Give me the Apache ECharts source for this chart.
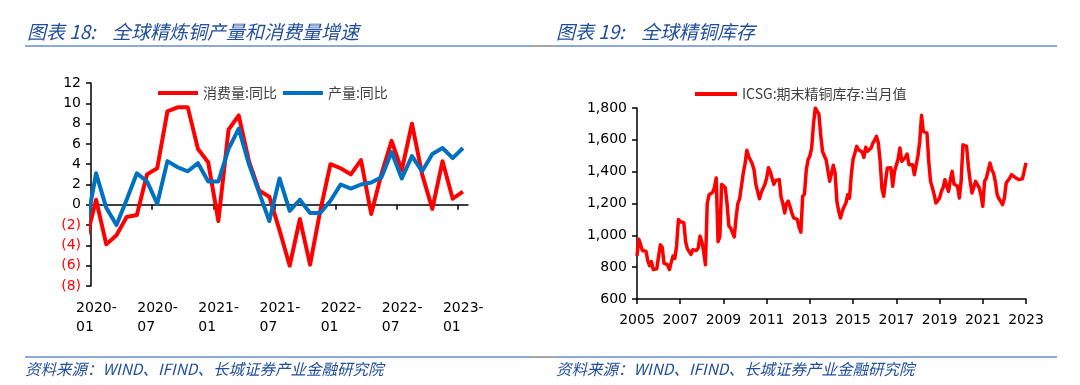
<!DOCTYPE html>
<html><head><meta charset="utf-8">
<script src="https://cdn.jsdelivr.net/npm/echarts@6/dist/echarts.min.js"></script>
<style>html,body{margin:0;padding:0;background:#fff}#c{width:1080px;height:385px}</style>
</head><body><div id="c"></div>
<script>
// ---------- Left chart: global refined copper production & consumption YoY (%) ----------
const leadMonth = '2019-12';   // partially visible segment entering the plot
const growthMonths = [
  '2020-01','2020-02','2020-03','2020-04','2020-05','2020-06','2020-07','2020-08','2020-09','2020-10','2020-11','2020-12',
  '2021-01','2021-02','2021-03','2021-04','2021-05','2021-06','2021-07','2021-08','2021-09','2021-10','2021-11','2021-12',
  '2022-01','2022-02','2022-03','2022-04','2022-05','2022-06','2022-07','2022-08','2022-09','2022-10','2022-11','2022-12',
  '2023-01'
];
// first value belongs to leadMonth
const consumptionYoY = [
  -3.5,
  0.5, -3.9, -3.0, -1.2, -1.0, 3.0, 3.6, 9.2, 9.6, 9.6, 5.5, 4.2,
  -1.6, 7.4, 8.8, 4.3, 1.4, 0.8, -2.5, -6.0, -1.4, -5.9, -0.6, 4.0,
  3.6, 3.0, 4.4, -0.9, 3.0, 6.3, 3.4, 8.0, 3.0, -0.4, 4.3, 0.6,
  1.3
];
const productionYoY = [
  -2.4,
  3.1, -0.3, -2.0, 0.5, 3.1, 2.3, 0.1, 4.3, 3.7, 3.3, 4.1, 2.3,
  2.3, 5.5, 7.5, 4.0, 1.2, -1.6, 2.6, -0.6, 0.5, -0.8, -0.8, 0.4,
  2.0, 1.6, 2.0, 2.2, 2.7, 5.2, 2.6, 4.8, 3.3, 5.0, 5.6, 4.6,
  5.6
];
const growthSeriesNames = ['消费量:同比', '产量:同比'];

// ---------- Right chart: ICSG refined copper inventory (kt), monthly 2005-01 .. 2023-01 ----------
const inventoryStartYear = 2005;
const inventory = [
  870, 975, 940, 905, 905, 900, 840, 810, 835, 785, 785, 790,        // 2005
  870, 940, 925, 825, 820, 815, 785, 830, 870, 855, 935, 1100,       // 2006
  1085, 1080, 1080, 960, 915, 905, 880, 910, 910, 905, 920, 995,     // 2007
  960, 900, 815, 1200, 1255, 1260, 1270, 1300, 1360, 960, 990, 1320, // 2008
  1320, 1300, 1200, 1060, 1045, 1040, 990, 1110, 1200, 1230, 1240, 1390, // 2009
  1450, 1535, 1495, 1495, 1450, 1410, 1320, 1315, 1230, 1270, 1265, 1320, // 2010
  1360, 1425, 1400, 1390, 1320, 1345, 1350, 1350, 1240, 1200, 1140, 1200, // 2011
  1215, 1180, 1140, 1110, 1105, 1100, 1050, 1020, 1245, 1260, 1412, 1475, // 2012
  1500, 1550, 1700, 1800, 1790, 1762, 1632, 1528, 1500, 1475, 1465, 1340, // 2013
  1340, 1440, 1391, 1213, 1151, 1109, 1151, 1180, 1203, 1255, 1234, 1381, // 2014
  1480, 1517, 1559, 1538, 1530, 1524, 1490, 1553, 1528, 1532, 1549, 1580, // 2015
  1600, 1622, 1580, 1465, 1297, 1245, 1339, 1423, 1427, 1425, 1308, 1402, // 2016
  1412, 1480, 1549, 1465, 1475, 1490, 1511, 1444, 1444, 1444, 1381, 1381, // 2017
  1500, 1590, 1754, 1653, 1650, 1643, 1465, 1339, 1300, 1255, 1203, 1218, // 2018
  1234, 1276, 1300, 1350, 1308, 1276, 1350, 1402, 1322, 1315, 1308, 1234, // 2019
  1343, 1569, 1559, 1559, 1433, 1340, 1266, 1255, 1339, 1350, 1300, 1255, // 2020
  1182, 1339, 1360, 1370, 1454, 1412, 1390, 1335, 1255, 1230, 1213, 1193, // 2021
  1234, 1329, 1335, 1360, 1381, 1385, 1364, 1360, 1350, 1350, 1355, 1360, // 2022
  1455                                                                    // 2023-01
];
const inventorySeriesName = 'ICSG:期末精铜库存:当月值';

// ---------- Texts ----------
const leftTitleA = '图表 18:';
const leftTitleB = '全球精炼铜产量和消费量增速';
const rightTitleA = '图表 19:';
const rightTitleB = '全球精铜库存';
const sourceText = '资料来源：WIND、IFIND、长城证券产业金融研究院';

// ---------- Build ----------
const AX = '#000';
const NUMFONT = 'DejaVu Sans';
const CJK = '"Noto Sans CJK SC"';
const TITLE_BLUE = '#1F4E9C';
const RULE = '#8EAADB';

const consData = consumptionYoY.map((v, k) => [k - 0.5, v]);
const prodData = productionYoY.map((v, k) => [k - 0.5, v]);
const invData = inventory.map((v, k) => [k, v]);
const growthBoundaryTicks = [];
for (let k = 0; k < growthMonths.length; k += 6) growthBoundaryTicks.push(k);

const chart = echarts.init(document.getElementById('c'), null, {renderer: 'canvas', width: 1080, height: 385});

function txt(x, y, text, font, fill) {
  return {type: 'text', x: x, y: y, silent: true,
    style: {text: text, font: font, fill: fill, verticalAlign: 'middle', align: 'left'}};
}
function rule(x1, x2, y, color, w) {
  return {type: 'line', silent: true, shape: {x1: x1, y1: y, x2: x2, y2: y}, style: {stroke: color, lineWidth: w}};
}

const option = {
  animation: false,
  backgroundColor: '#fff',
  graphic: [
    txt(27, 32, leftTitleA, 'italic 19px ' + CJK, TITLE_BLUE),
    txt(112, 32, leftTitleB, 'italic 19px ' + CJK, TITLE_BLUE),
    txt(556, 32, rightTitleA, 'italic 19px ' + CJK, TITLE_BLUE),
    txt(641, 32, rightTitleB, 'italic 19px ' + CJK, TITLE_BLUE),
    rule(25, 531, 46, RULE, 2),
    rule(531, 556, 46, '#A6A6A6', 2),
    rule(556, 1057, 46, RULE, 2),
    rule(25, 531, 357, RULE, 2),
    rule(531, 556, 357, '#A6A6A6', 2),
    rule(556, 1057, 357, RULE, 2),
    txt(25, 369, sourceText, 'italic 15.5px ' + CJK, TITLE_BLUE),
    txt(556, 369, sourceText, 'italic 15.5px ' + CJK, TITLE_BLUE)
  ],
  grid: [
    {left: 91, top: 83, width: 377, height: 203},
    {left: 637, top: 108, width: 389, height: 191}
  ],
  legend: [
    {data: growthSeriesNames, left: 153, top: 81, icon: 'rect', itemWidth: 40, itemHeight: 4, itemGap: 6,
     textStyle: {fontFamily: CJK, fontSize: 14, color: '#404040'}},
    {data: [inventorySeriesName], left: 690, top: 82, icon: 'rect', itemWidth: 42, itemHeight: 4,
     textStyle: {fontFamily: CJK, fontSize: 14, color: '#404040'}}
  ],
  xAxis: [
    {gridIndex: 0, type: 'value', min: 0, max: growthMonths.length, interval: 6, position: 'bottom',
     axisLine: {show: true, onZero: true, lineStyle: {color: AX, width: 1.5}},
     axisTick: {show: true, length: 5, customValues: growthBoundaryTicks, lineStyle: {color: AX, width: 1.5}},
     axisLabel: {show: false}, splitLine: {show: false}},
    {gridIndex: 0, type: 'category', data: growthMonths, boundaryGap: true, position: 'bottom',
     axisLine: {show: false, onZero: false}, axisTick: {show: false}, splitLine: {show: false},
     axisLabel: {interval: 5, margin: 13,
       formatter: function (v) { const p = v.split('-'); return '{a|' + p[0] + '-}\n{a|' + p[1] + '}'; },
       rich: {a: {width: 40, align: 'left', fontFamily: NUMFONT, fontSize: 14, lineHeight: 19, color: '#000'}}}},
    {gridIndex: 1, type: 'value', min: 0, max: inventory.length - 1, interval: 24, position: 'bottom',
     axisLine: {show: true, onZero: false, lineStyle: {color: AX, width: 1.5}},
     axisTick: {show: true, length: 5, lineStyle: {color: AX, width: 1.5}},
     axisLabel: {margin: 14, fontFamily: NUMFONT, fontSize: 14, color: '#000',
       formatter: function (v) { return String(inventoryStartYear + Math.round(v / 12)); }},
     splitLine: {show: false}}
  ],
  yAxis: [
    {gridIndex: 0, type: 'value', min: -8, max: 12, interval: 2,
     axisLine: {show: true, onZero: false, lineStyle: {color: AX, width: 1.5}},
     axisTick: {show: true, length: 5, lineStyle: {color: AX, width: 1.5}},
     axisLabel: {margin: 10, fontFamily: NUMFONT, fontSize: 14,
       formatter: function (v) { return v < 0 ? '(' + (-v) + ')' : String(v); },
       color: function (v) { return Number(v) < 0 ? '#FF0000' : '#000'; }},
     splitLine: {show: false}},
    {gridIndex: 1, type: 'value', min: 600, max: 1800, interval: 200,
     axisLine: {show: true, onZero: false, lineStyle: {color: AX, width: 1.5}},
     axisTick: {show: true, length: 5, lineStyle: {color: AX, width: 1.5}},
     axisLabel: {margin: 10, fontFamily: NUMFONT, fontSize: 14, color: '#000',
       formatter: function (v) { return Number(v).toLocaleString('en-US'); }},
     splitLine: {show: false}}
  ],
  series: [
    {name: growthSeriesNames[0], type: 'line', xAxisIndex: 0, yAxisIndex: 0, data: consData,
     showSymbol: false, symbol: 'none', clip: true, color: '#FF0000',
     lineStyle: {width: 4, color: '#FF0000', join: 'round'}},
    {name: growthSeriesNames[1], type: 'line', xAxisIndex: 0, yAxisIndex: 0, data: prodData,
     showSymbol: false, symbol: 'none', clip: true, color: '#0070C0',
     lineStyle: {width: 4, color: '#0070C0', join: 'round'}},
    {name: inventorySeriesName, type: 'line', xAxisIndex: 2, yAxisIndex: 1, data: invData,
     showSymbol: false, symbol: 'none', clip: true, color: '#FF0000',
     lineStyle: {width: 3.5, color: '#FF0000', join: 'round'}}
  ]
};
chart.setOption(option);
</script>
</body></html>
